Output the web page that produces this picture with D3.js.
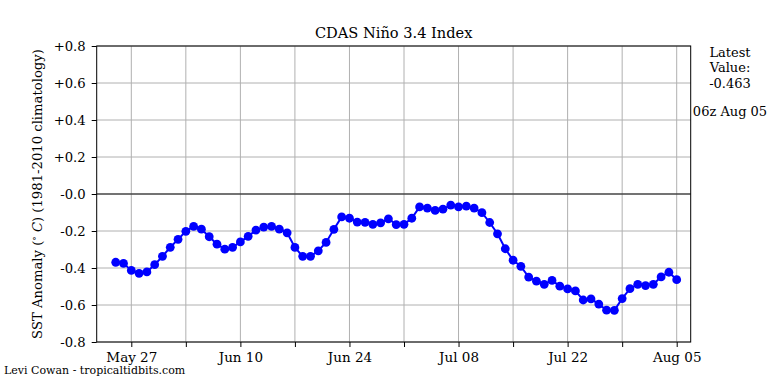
<!DOCTYPE html>
<html>
<head>
<meta charset="utf-8">
<script src="https://cdn.jsdelivr.net/npm/d3@7"></script>
<style>
  body { margin: 0; background: #fff; }
  svg { display: block; font-family: "DejaVu Serif", serif; }
</style>
</head>
<body>
<svg id="chart" width="768" height="384"></svg>
<script>
// ---- data ----
const startDate = "2025-05-25";   // first daily value
const values = [
  -0.369, -0.375, -0.413, -0.429, -0.421, -0.382, -0.337, -0.288, -0.245, -0.202,
  -0.175, -0.190, -0.231, -0.271, -0.298, -0.288, -0.259, -0.229, -0.195, -0.179,
  -0.175, -0.190, -0.210, -0.289, -0.337, -0.337, -0.307, -0.262, -0.191, -0.124,
  -0.131, -0.152, -0.153, -0.164, -0.156, -0.134, -0.165, -0.164, -0.131, -0.070,
  -0.076, -0.089, -0.082, -0.060, -0.070, -0.065, -0.076, -0.101, -0.154, -0.215,
  -0.296, -0.358, -0.391, -0.449, -0.471, -0.488, -0.467, -0.498, -0.513, -0.524,
  -0.573, -0.567, -0.595, -0.628, -0.629, -0.565, -0.512, -0.488, -0.495, -0.488,
  -0.448, -0.423, -0.463
];
const majorTickDates = ["2025-05-27", "2025-06-10", "2025-06-24", "2025-07-08", "2025-07-22", "2025-08-05"];
const majorTickLabels = ["May 27", "Jun 10", "Jun 24", "Jul 08", "Jul 22", "Aug 05"];
const minorTickDates = ["2025-06-03", "2025-06-17", "2025-07-01", "2025-07-15", "2025-07-29"];
const yTicks = [0.8, 0.6, 0.4, 0.2, 0.0, -0.2, -0.4, -0.6, -0.8];
const yTickLabels = ["+0.8", "+0.6", "+0.4", "+0.2", "-0.0", "-0.2", "-0.4", "-0.6", "-0.8"];
const titleText = "CDAS Niño 3.4 Index";
const latestText = ["Latest", "Value:", "-0.463"];
const latestTime = "06z Aug 05";
const creditText = "Levi Cowan - tropicaltidbits.com";

// ---- layout ----
const svg = d3.select("#chart");
const L = 96.7, R = 690.7, T = 46, B = 342;
const parse = d3.utcParse("%Y-%m-%d");
const t0 = parse(startDate);
const data = values.map((v, i) => ({ date: d3.utcDay.offset(t0, i), v }));

const x = d3.scaleUtc()
  .domain([parse("2025-05-27"), parse("2025-08-05")])
  .range([131.3, 676.7]);
const y = d3.scaleLinear().domain([-0.8, 0.8]).range([B, T]);

const majors = majorTickDates.map(parse);
const minors = minorTickDates.map(parse);
const allX = majors.concat(minors);

// grid
const grid = svg.append("g");
grid.selectAll("line.vx").data(allX).join("line")
  .attr("x1", d => x(d)).attr("x2", d => x(d))
  .attr("y1", T).attr("y2", B)
  .attr("stroke", "#b0b0b0").attr("stroke-width", 1);
grid.selectAll("line.hy").data(yTicks.filter(d => d !== 0)).join("line")
  .attr("x1", L).attr("x2", R)
  .attr("y1", d => y(d)).attr("y2", d => y(d))
  .attr("stroke", "#b0b0b0").attr("stroke-width", 1);
grid.append("line")
  .attr("x1", L).attr("x2", R).attr("y1", y(0)).attr("y2", y(0))
  .attr("stroke", "#444").attr("stroke-width", 1.5);

// series
const line = d3.line().x(d => x(d.date)).y(d => y(d.v));
svg.append("path").datum(data)
  .attr("d", line).attr("fill", "none")
  .attr("stroke", "#0000ff").attr("stroke-width", 2);
svg.selectAll("circle").data(data).join("circle")
  .attr("cx", d => x(d.date)).attr("cy", d => y(d.v))
  .attr("r", 4.4).attr("fill", "#0000ff");

// frame
svg.append("rect").attr("x", L).attr("y", T).attr("width", R - L).attr("height", B - T)
  .attr("fill", "none").attr("stroke", "#000").attr("stroke-width", 1);

// x axis
const xAxis = d3.axisBottom(x).tickValues(majors)
  .tickFormat((d, i) => majorTickLabels[i]).tickSizeOuter(0).tickSize(5).tickPadding(5);
const gx = svg.append("g").attr("transform", `translate(0,${B})`).call(xAxis);
gx.select(".domain").remove();
gx.selectAll("text").attr("font-size", 13.5).attr("font-family", "DejaVu Serif").attr("fill", "#000");
svg.append("g").attr("transform", `translate(0,${B})`)
  .call(d3.axisBottom(x).tickValues(minors).tickFormat("").tickSize(5).tickSizeOuter(0))
  .select(".domain").remove();

// y axis
const yAxis = d3.axisLeft(y).tickValues(yTicks)
  .tickFormat((d, i) => yTickLabels[i]).tickSize(5).tickSizeOuter(0).tickPadding(6);
const gy = svg.append("g").attr("transform", `translate(${L},0)`).call(yAxis);
gy.select(".domain").remove();
gy.selectAll("text").attr("font-size", 13.2).attr("font-family", "DejaVu Serif").attr("fill", "#000");

// y label
const yl = svg.append("text")
  .attr("transform", `translate(42,${(T + B) / 2}) rotate(-90)`)
  .attr("text-anchor", "middle").attr("font-size", 13.2);
yl.append("tspan").text("SST Anomaly (");
yl.append("tspan").attr("font-size", 9).attr("dy", -5).text("∘");
yl.append("tspan").attr("dy", 5).text(" ");
yl.append("tspan").attr("font-style", "italic").text("C");
yl.append("tspan").text(") (1981-2010 climatology)");

// title
svg.append("text").attr("x", (L + R) / 2).attr("y", 38)
  .attr("text-anchor", "middle").attr("font-size", 14.6).text(titleText);

// latest value
svg.append("g").selectAll("text").data(latestText).join("text")
  .attr("x", 730).attr("y", (d, i) => 56.5 + i * 15.5)
  .attr("text-anchor", "middle").attr("font-size", 13).text(d => d);
svg.append("text").attr("x", 730).attr("y", 116)
  .attr("text-anchor", "middle").attr("font-size", 13).text(latestTime);

// credit
svg.append("text").attr("x", 4).attr("y", 374)
  .attr("font-size", 11).text(creditText);
</script>
</body>
</html>
